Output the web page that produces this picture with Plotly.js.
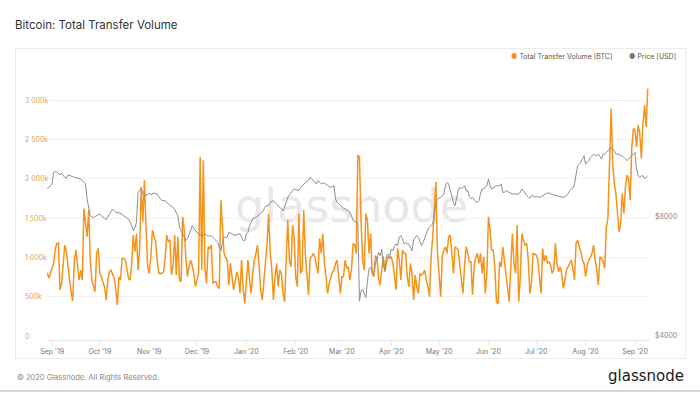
<!DOCTYPE html>
<html>
<head>
<meta charset="utf-8">
<script src="https://cdn.plot.ly/plotly-3.0.1.min.js"></script>
<style>
  html, body { margin: 0; padding: 0; background: #ffffff; }
  #wrap { position: relative; width: 700px; height: 394px; overflow: hidden; }
  #card { position: absolute; left: 15px; top: 48px; width: 671px; height: 311px; box-sizing: border-box; border: 1px solid #ececec; }
  #sep { position: absolute; left: 0; top: 390px; width: 700px; height: 2px; background: #d4d4d4; }
  #chart { position: absolute; left: 0; top: 0; width: 700px; height: 394px; }
</style>
</head>
<body>
<div id="wrap">
  <div id="card"></div>
  <div id="sep"></div>
  <div id="chart"></div>
</div>
<script>
// ---- data (daily, starting 2019-08-29) ----
const startDate = '2019-08-29';

// Total Transfer Volume [BTC], in thousands of BTC
const volumeK = [
  805, 734, 800,
  860, 925, 1100, 1179, 1184, 585, 670, 900, 1157, 1073,
  850, 712, 560, 445, 967, 1094, 900, 712, 840, 712,
  1624, 1433, 1264, 1603, 967, 712, 640, 564, 1052, 1115,
  797, 755, 680, 628, 458, 712, 818, 840, 790, 734,
  600, 394, 755, 712, 988, 988, 967, 850, 734, 712,
  925, 1285, 1073, 1306, 840, 1100, 1900, 1454, 1984, 1391,
  882, 797, 1000, 1348, 1285, 1200, 967, 797, 800, 797,
  818, 1000, 1285, 1200, 1221, 776, 900, 1285, 776, 1264,
  712, 691, 1518, 1348, 1000, 755, 882, 967, 900, 797,
  628, 700, 797, 2281, 840, 2239, 861, 670, 1136, 1115,
  1157, 670, 691, 691, 628, 606, 1730, 1391, 1052, 1000,
  967, 649, 925, 755, 586, 700, 818, 755, 543, 967,
  600, 416, 755, 967, 712, 543, 797, 967, 1050, 1157,
  882, 586, 458, 700, 840, 1179, 1560, 1052, 840, 458,
  755, 925, 628, 840, 797, 543, 437, 925, 1476, 967,
  882, 1412, 1264, 755, 628, 1560, 797, 840, 1603, 1052,
  755, 522, 988, 1010, 1052, 1010, 900, 797, 1243, 1052,
  1306, 925, 755, 543, 670, 750, 818, 840, 925, 967,
  712, 543, 755, 755, 967, 861, 882, 712, 840, 1179,
  1157, 1052, 2302, 2281, 1476, 967, 840, 1560, 1476, 1052,
  1306, 797, 755, 925, 1010, 734, 649, 882, 1010, 818,
  946, 1010, 988, 1010, 925, 755, 586, 1115, 967, 712,
  1094, 1052, 1052, 755, 628, 925, 797, 458, 776, 628,
  543, 797, 776, 797, 840, 712, 628, 500, 1010, 1264,
  1560, 1963, 1052, 712, 500, 1010, 1094, 1136, 1052, 1264,
  1285, 1052, 797, 1136, 1115, 1094, 900, 700, 543, 903,
  1136, 1052, 946, 946, 522, 882, 1000, 1052, 925, 1052,
  797, 1009, 543, 797, 1518, 1348, 1094, 1094, 882, 437,
  407, 946, 882, 1136, 967, 797, 585, 437, 882, 1306,
  925, 797, 1412, 437, 755, 1306, 1221, 1157, 1179, 967,
  543, 670, 1052, 1040, 1030, 967, 755, 543, 1115, 946,
  1030, 925, 946, 900, 797, 840, 1179, 925, 818, 882,
  797, 606, 712, 840, 882, 925, 967, 861, 712, 1179,
  1221, 1136, 1073, 967, 925, 755, 903, 967, 1000, 1052,
  1157, 967, 840, 649, 1009, 988, 946, 861, 1391, 1500,
  2366, 2896, 2196, 1942, 1815, 1560, 1327, 1433, 1815, 1560,
  1900, 2048, 1984, 1730, 2408, 2641, 2620, 2408, 2684, 2578,
  2260, 2705, 2938, 2663, 3150
];

// Price [USD]
const priceUSD = [
  9420, 9500, 9600,
  9700, 10380, 10420, 10400, 10320, 10220, 10340, 10170, 10100, 10020,
  10220, 10200, 10170, 10120, 10080, 10050, 10020, 10000, 9980, 9900,
  9790, 9700, 8880, 8380, 8060, 8000, 7980, 8020, 8060, 8100,
  8140, 8060, 7980, 7930, 7880, 8000, 8140, 8260, 8380, 8300,
  8220, 8220, 8200, 8160, 8140, 8060, 7980, 7950, 7910, 7760,
  7610, 7380, 7500, 7750, 9230, 9350, 9420, 9150, 9100, 9060,
  9130, 9200, 9100, 9150, 9200, 9170, 9150, 9000, 8880, 8800,
  8800, 8800, 8700, 8630, 8550, 8470, 8420, 8380, 8200, 8060,
  7540, 7400, 7250, 7100, 6970, 7060, 7200, 7380, 7610, 7500,
  7380, 7300, 7250, 7220, 7180, 7200, 7250, 7200, 7150, 7170,
  7180, 7100, 7040, 6970, 6900, 6700, 6570, 6900, 7110, 7110,
  7110, 7320, 7280, 7250, 7200, 7180, 7220, 7250, 7250, 7110,
  6970, 6970, 7250, 7300, 7610, 7750, 7910, 7950, 7980, 8050,
  8140, 8180, 8220, 8400, 8510, 8540, 8540, 8710, 8760, 8800,
  8700, 8630, 8550, 8470, 8380, 8300, 8470, 8700, 8970, 9100,
  9230, 9330, 9420, 9400, 9350, 9330, 9500, 9600, 9700, 9790,
  9850, 9890, 10080, 10000, 9890, 9800, 9700, 9890, 9800, 9700,
  9720, 9750, 9680, 9600, 9550, 9510, 9560, 9600, 8880, 8700,
  8630, 8550, 8470, 8420, 8380, 8340, 8300, 8200, 8060, 7830,
  7800, 7750, 7750, 4900, 5200, 5260, 5100, 5000, 5500, 5910,
  5970, 5800, 5750, 6390, 6260, 6510, 6390, 6640, 6030, 5860,
  6390, 6450, 6330, 6640, 6570, 6770, 6840, 6770, 7110, 7180,
  7040, 6840, 6900, 6840, 6840, 6710, 6570, 7000, 7100, 7180,
  7110, 6900, 6770, 6900, 7100, 7320, 7460, 7550, 7610, 7680,
  7980, 8700, 8880, 8920, 8970, 9050, 9150, 9600, 9790, 9700,
  9330, 8970, 8710, 8540, 8880, 9330, 9510, 9420, 9510, 9600,
  9300, 9330, 9000, 8900, 8970, 8850, 8750, 8710, 8800, 9150,
  9420, 9420, 9510, 9600, 9980, 9600, 9420, 9510, 9550, 9600,
  9600, 9600, 9700, 9230, 9230, 9330, 9280, 9230, 9200, 9150,
  9150, 9150, 9150, 9150, 9250, 9420, 9330, 9150, 9060, 8970,
  8920, 9060, 9060, 8970, 9020, 9000, 8970, 9000, 9060, 9100,
  9150, 9200, 9200, 9150, 9120, 9100, 9080, 9060, 9040, 9020,
  9000, 8970, 9000, 9060, 9150, 9330, 9400, 9460, 9700, 10380,
  10790, 10890, 11000, 11210, 11430, 10890, 11000, 11110, 11330, 11450,
  11540, 11430, 11430, 11540, 11330, 11210, 11540, 11540, 11650, 11770,
  11890, 12010, 11890, 11770, 11540, 11540, 11540, 11430, 11430, 11330,
  11210, 11110, 11210, 11330, 11430, 11540, 11660, 10580, 10170, 10080,
  10170, 10170, 10020, 10080, 10170
];

// axis ticks
const volumeTickVals = [0, 500, 1000, 1500, 2000, 2500, 3000];
const volumeTickText = ['0', '500k', '1 000k', '1 500k', '2 000k', '2 500k', '3 000k'];
const priceTickVals = [4000, 8000];
const priceTickText = ['$4000', '$8000'];

const seriesNames = ['Total Transfer Volume [BTC]', 'Price [USD]'];
const titleText = 'Bitcoin: Total Transfer Volume';
const footerText = '\u00A9 2020 Glassnode. All Rights Reserved.';
const logoText = 'glassnode';

// ---- build dates ----
const t0 = Date.parse(startDate + 'T00:00:00Z');
const dates = volumeK.map((_, i) => new Date(t0 + i * 86400000).toISOString().slice(0, 10));

const ORANGE = '#f7931a';
const GREY = '#8e8e8e';

const traces = [
  { x: dates, y: volumeK, type: 'scatter', mode: 'lines', name: seriesNames[0],
    line: { color: ORANGE, width: 1.5 }, yaxis: 'y', hoverinfo: 'skip' },
  { x: dates, y: priceUSD, type: 'scatter', mode: 'lines', name: seriesNames[1],
    line: { color: GREY, width: 1 }, yaxis: 'y2', hoverinfo: 'skip' }
];

const L = 47, R = 649, T = 69, B = 340;
const pw = R - L, ph = B - T;
const px = v => (v - L) / pw;
const py = v => (B - v) / ph;

const annotations = [];
volumeTickVals.forEach((v, i) => {
  annotations.push({ xref: 'paper', yref: 'y', x: px(23), y: v, xanchor: 'left', yanchor: 'middle',
    text: volumeTickText[i], showarrow: false, font: { family: 'Inter, sans-serif', size: 7, color: '#e2a35c' } });
});
annotations.push({ xref: 'paper', yref: 'paper', x: px(509), y: py(57), xanchor: 'left', yanchor: 'middle', showarrow: false,
  text: '<span style="color:' + ORANGE + '">\u25CF</span> ' + seriesNames[0],
  font: { family: 'Inter, sans-serif', size: 7, color: '#555' } });
annotations.push({ xref: 'paper', yref: 'paper', x: px(627), y: py(57), xanchor: 'left', yanchor: 'middle', showarrow: false,
  text: '<span style="color:#777">\u25CF</span> ' + seriesNames[1],
  font: { family: 'Inter, sans-serif', size: 7, color: '#555' } });
annotations.push({ xref: 'paper', yref: 'paper', x: px(15), y: py(377), xanchor: 'left', yanchor: 'middle', showarrow: false,
  text: footerText, font: { family: 'Inter, sans-serif', size: 7.5, color: '#8a8a8a' } });
annotations.push({ xref: 'paper', yref: 'paper', x: px(686), y: py(376), xanchor: 'right', yanchor: 'middle', showarrow: false,
  text: logoText, font: { family: 'DejaVu Sans, sans-serif', size: 15, color: '#1a1a1a' } });

const layout = {
  width: 700, height: 394,
  margin: { l: L, r: 700 - R, t: T, b: 394 - B, pad: 0 },
  paper_bgcolor: 'rgba(0,0,0,0)',
  plot_bgcolor: 'rgba(0,0,0,0)',
  showlegend: false,
  title: { text: titleText, xref: 'container', yref: 'container', x: 15 / 700, y: 1 - 25 / 394,
    xanchor: 'left', yanchor: 'middle', font: { family: 'Inter, sans-serif', size: 11.5, color: '#333' } },
  xaxis: {
    type: 'date',
    range: ['2019-08-28 20:00', '2020-09-09 19:00'],
    tick0: '2019-09-01', dtick: 'M1', tickformat: "%b '%y",
    showgrid: false, zeroline: false,
    showline: true, linecolor: '#e8e8e8', linewidth: 1,
    ticks: 'outside', ticklen: 5, tickcolor: '#ececec', tickwidth: 1,
    tickfont: { family: 'Inter, sans-serif', size: 7, color: '#777' }
  },
  yaxis: {
    range: [-51, 3400],
    tickvals: volumeTickVals.slice(1),
    showticklabels: false,
    showgrid: true, gridcolor: '#f2f2f2', gridwidth: 1,
    zeroline: false, ticks: ''
  },
  yaxis2: {
    type: 'log', overlaying: 'y', side: 'right',
    range: [3.59194, 4.2775],
    tickvals: priceTickVals, ticktext: priceTickText,
    showgrid: false, zeroline: false, ticks: '',
    ticklabelstandoff: 5,
    tickfont: { family: 'Inter, sans-serif', size: 7, color: '#888' }
  },
  shapes: [{
    type: 'rect', xref: 'paper', yref: 'paper', layer: 'below',
    x0: px(300), x1: px(403), y0: py(225), y1: py(180),
    line: { width: 0 }, fillcolor: 'rgba(0,0,0,0)',
    label: { text: logoText, textposition: 'middle center',
      font: { family: 'DejaVu Sans, sans-serif', size: 46, color: '#e8e8e8' } }
  }],
  annotations: annotations
};

Plotly.newPlot('chart', traces, layout, { staticPlot: true, displayModeBar: false });
</script>
</body>
</html>
